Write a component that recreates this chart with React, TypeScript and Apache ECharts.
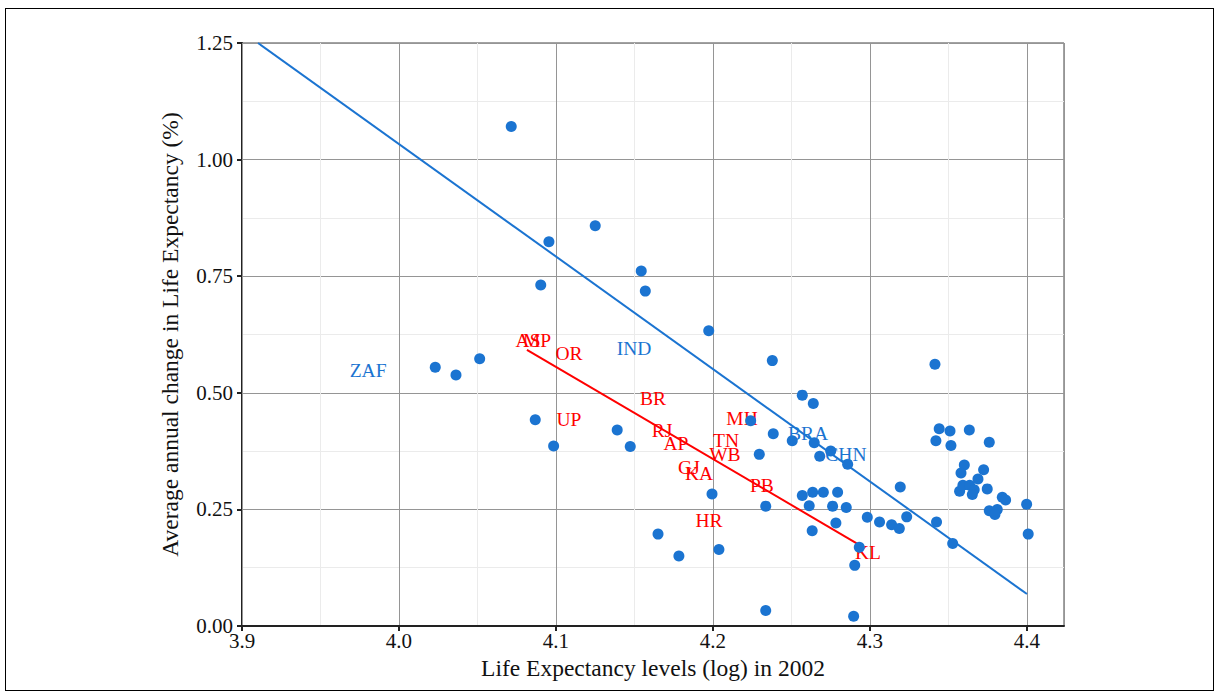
import React, { useEffect, useRef } from "react";
import * as echarts from "echarts";

// Life expectancy (log) in 2002 vs average annual change (%)
const pointX: number[] = [
  4.0231, 4.0363, 4.0514, 4.0715, 4.0868, 4.0903, 4.0955, 4.0985, 4.125, 4.139,
  4.1473, 4.1543, 4.1569, 4.165, 4.1783, 4.1973, 4.1994, 4.2038, 4.224, 4.2295,
  4.2336, 4.2336, 4.2378, 4.2384, 4.2505, 4.2569, 4.2569, 4.2613, 4.2639, 4.2632,
  4.2645, 4.2635, 4.268, 4.2703, 4.275, 4.2762, 4.2783, 4.2794, 4.2849, 4.2858,
  4.2932, 4.2903, 4.2896, 4.2983, 4.3061, 4.3138, 4.3187, 4.3193, 4.3234, 4.3414,
  4.342, 4.3424, 4.3441, 4.351, 4.3516, 4.3527, 4.3633, 4.3601, 4.358, 4.3571,
  4.3592, 4.3635, 4.3664, 4.3652, 4.3688, 4.3724, 4.376, 4.3747, 4.376, 4.3811,
  4.3796, 4.3843, 4.3864, 4.3998, 4.4008,
];
const pointY: number[] = [
  0.555, 0.538, 0.573, 1.071, 0.442, 0.731, 0.824, 0.386, 0.858, 0.42,
  0.385, 0.761, 0.718, 0.197, 0.15, 0.633, 0.283, 0.164, 0.44, 0.368,
  0.257, 0.033, 0.569, 0.412, 0.397, 0.495, 0.28, 0.258, 0.477, 0.204,
  0.393, 0.287, 0.364, 0.287, 0.375, 0.257, 0.221, 0.287, 0.254, 0.347,
  0.169, 0.13, 0.021, 0.233, 0.223, 0.217, 0.209, 0.298, 0.234, 0.561,
  0.397, 0.223, 0.423, 0.418, 0.387, 0.177, 0.42, 0.345, 0.328, 0.289,
  0.302, 0.302, 0.292, 0.282, 0.315, 0.335, 0.394, 0.294, 0.247, 0.25,
  0.239, 0.276, 0.27, 0.261, 0.197,
];

// Fitted lines (endpoints)
const countryFitX: number[] = [3.9102, 4.4];
const countryFitY: number[] = [1.25, 0.0686];
const stateFitX: number[] = [4.0815, 4.2932];
const stateFitY: number[] = [0.592, 0.174];

// Country labels (blue)
const countryNames: string[] = ["ZAF", "IND", "BRA", "CHN"];
const countryLabelX: number[] = [3.9803, 4.1497, 4.2605, 4.2847];
const countryLabelY: number[] = [0.547, 0.594, 0.412, 0.367];

// Indian state labels (red)
const stateNames: string[] = ["AS", "MP", "OR", "UP", "BR", "RJ", "AP", "GJ", "KA", "MH", "TN", "WB", "PB", "HR", "KL"];
const stateLabelX: number[] = [4.0822, 4.0879, 4.1083, 4.1083, 4.1618, 4.1675, 4.1764, 4.1847, 4.1911, 4.2185, 4.2083, 4.2076, 4.2312, 4.1975, 4.2987];
const stateLabelY: number[] = [0.613, 0.613, 0.585, 0.442, 0.487, 0.42, 0.392, 0.339, 0.328, 0.444, 0.397, 0.367, 0.302, 0.227, 0.157];

const xTicks: number[] = [3.9, 4.0, 4.1, 4.2, 4.3, 4.4];
const yTicks: number[] = [0, 0.25, 0.5, 0.75, 1.0, 1.25];

const FONT = "'Liberation Serif', 'Times New Roman', serif";
const BLUE = "#1b74d1";
const RED = "#ff0000";

export default function App() {
  const ref = useRef<HTMLDivElement>(null);

  useEffect(() => {
    if (!ref.current) return;
    const chart = echarts.init(ref.current, undefined, { renderer: "svg" });

    const points = pointX.map((x, i) => [x, pointY[i]]);
    const countryFit = countryFitX.map((x, i) => [x, countryFitY[i]]);
    const stateFit = stateFitX.map((x, i) => [x, stateFitY[i]]);
    const countryLabels = countryNames.map((n, i) => ({ name: n, value: [countryLabelX[i], countryLabelY[i]] }));
    const stateLabels = stateNames.map((n, i) => ({ name: n, value: [stateLabelX[i], stateLabelY[i]] }));

    const xMin = xTicks[0];
    const xMax = 4.4236;

    const labelSeries = (data: any[], color: string) => ({
      type: "scatter",
      data,
      symbolSize: 1,
      itemStyle: { color: "rgba(0,0,0,0)" },
      silent: true,
      z: 3,
      zlevel: 0,
      label: {
        show: true,
        position: "inside",
        formatter: "{b}",
        color,
        opacity: 1,
        textBorderWidth: 0,
        textBorderColor: "transparent",
        fontFamily: FONT,
        fontSize: 19.5,
      },
    });

    chart.setOption({
      animation: false,
      backgroundColor: "#ffffff",
      grid: {
        left: 236,
        top: 34,
        width: 822,
        height: 583,
        show: true,
        borderColor: "#444444",
        borderWidth: 1,
        backgroundColor: "transparent",
      },
      xAxis: [
        {
          type: "value",
          min: xMin,
          max: xMax,
          interval: 0.1,
          z: 2,
          name: "Life Expectancy levels (log) in 2002",
          nameLocation: "middle",
          nameGap: 30,
          nameTextStyle: { fontFamily: FONT, fontSize: 23.5, color: "#111" },
          axisLine: { show: true, onZero: false, lineStyle: { color: "#222", width: 2 } },
          axisTick: { show: true, length: 5, lineStyle: { color: "#222", width: 2 } },
          axisLabel: {
            margin: 4,
            showMaxLabel: false,
            fontFamily: FONT,
            fontSize: 21,
            color: "#111",
            formatter: (v: number) => v.toFixed(1),
          },
          splitLine: { show: true, lineStyle: { color: "#959595", width: 1 } },
        },
        {
          type: "value",
          min: xMin,
          max: xMax,
          interval: 0.05,
          z: 0,
          position: "bottom",
          axisLine: { show: false },
          axisTick: { show: false },
          axisLabel: { show: false },
          splitLine: { show: true, lineStyle: { color: "#ebebeb", width: 1 } },
        },
      ],
      yAxis: {
        type: "value",
        min: yTicks[0],
        max: yTicks[yTicks.length - 1],
        interval: 0.25,
        name: "Average annual change in Life Expectancy (%)",
        nameLocation: "middle",
        nameGap: 60,
        nameTextStyle: { fontFamily: FONT, fontSize: 23.5, color: "#111" },
        axisLine: { show: true, onZero: false, lineStyle: { color: "#222", width: 2 } },
        axisTick: { show: true, length: 5, lineStyle: { color: "#222", width: 2 } },
        axisLabel: {
          margin: 9,
          fontFamily: FONT,
          fontSize: 21,
          color: "#111",
          formatter: (v: number) => v.toFixed(2),
        },
        splitLine: { show: true, lineStyle: { color: "#959595", width: 1 } },
        minorTick: { show: false, splitNumber: 2 },
        minorSplitLine: { show: true, lineStyle: { color: "#ebebeb", width: 1 } },
      },
      series: [
        {
          type: "line",
          data: countryFit,
          showSymbol: false,
          symbol: "none",
          lineStyle: { color: BLUE, width: 2 },
          z: 3,
        },
        {
          type: "line",
          data: stateFit,
          showSymbol: false,
          symbol: "none",
          lineStyle: { color: RED, width: 2 },
          z: 3,
        },
        labelSeries(countryLabels, BLUE),
        labelSeries(stateLabels, RED),
        {
          type: "scatter",
          data: points,
          symbolSize: 11,
          itemStyle: { color: BLUE, opacity: 1 },
          z: 6,
        },
      ],
    });

    return () => chart.dispose();
  }, []);

  return (
    <div
      style={{
        position: "fixed",
        left: 5,
        top: 8,
        width: 1209,
        height: 683,
        border: "1px solid #000",
        boxSizing: "border-box",
        background: "#fff",
      }}
    >
      <div ref={ref} style={{ position: "absolute", left: 0, top: 0, width: 1207, height: 681 }} />
    </div>
  );
}
